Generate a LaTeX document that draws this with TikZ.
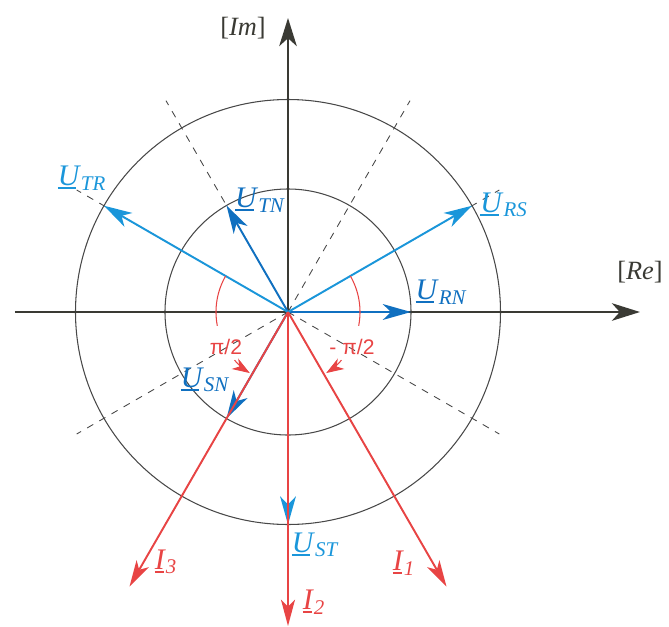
\documentclass[tikz,border=0pt]{standalone}
\usepackage{amsmath}
\usepackage{fontspec}
\setmainfont{Liberation Serif}
\newfontfamily\anglefont{Liberation Sans}
\usepackage{tikz}
\usetikzlibrary{arrows.meta}
\definecolor{axisgray}{RGB}{58,58,52}
\definecolor{ringgray}{RGB}{72,72,72}
\definecolor{phasordark}{RGB}{16,112,192}
\definecolor{phasorsky}{RGB}{26,150,218}
\definecolor{currentred}{RGB}{232,68,68}
\newcommand{\phasor}[2]{$\setbox0\hbox{\textit{#1}}\rlap{\rule[-2.1pt]{0.8\wd0}{1.3pt}}\box0_{\textit{#2}}$}

\begin{document}
\begin{tikzpicture}[x=0.02cm,y=0.02cm,
  axisline/.style={draw=axisgray,line width=1.3pt,-{Stealth[length=16pt,width=10pt,inset=4.5pt]}},
  ring/.style={draw=ringgray,line width=0.6pt},
  guide/.style={draw=ringgray,line width=0.5pt,dash pattern=on 4pt off 4pt},
  voltdark/.style={draw=phasordark,line width=1.1pt,-{Stealth[length=16pt,width=9pt,inset=4.5pt]}},
  voltsky/.style={voltdark,draw=phasorsky},
  amp/.style={draw=currentred,line width=1.1pt,-{Stealth[length=15pt,width=8pt,inset=4pt]}},
  anglemark/.style={draw=currentred,line width=0.6pt},
  angtip/.style={-{Stealth[length=10pt,width=7pt,inset=3pt]}},
  lab/.style={font=\fontsize{17}{20}\selectfont},
  axlab/.style={font=\fontsize{15}{18}\selectfont,text=axisgray},
  anglab/.style={font=\anglefont\fontsize{12}{14}\selectfont,text=currentred}]
\useasboundingbox (-288,-314) rectangle (381,312);
% points
\coordinate (O) at (0,0);
\coordinate (ReL) at (-273,0); \coordinate (ReR) at (352,0);
\coordinate (ImB) at (0,-300); \coordinate (ImT) at (0,294);
\coordinate (RN) at (0:123); \coordinate (TN) at (120:123); \coordinate (SN) at (240:123);
\coordinate (RS) at (30:212.5); \coordinate (TR) at (150:212.5); \coordinate (ST) at (270:212.5);
\coordinate (I1) at (-60:317); \coordinate (I2) at (270:314); \coordinate (I3) at (240:317);
% circles and guides
\draw[ring] (O) circle[radius=123];
\draw[ring] (O) circle[radius=212.5];
\foreach \a in {30,60,120,150,210,240,300,330}
  \draw[guide] (O) -- (\a:244);
% axes
\draw[axisline] (ReL) -- (ReR);
\draw[axisline] (ImB) -- (ImT);
\node[axlab] (relab) at (352,40) {[\textit{Re}]};
\node[axlab] (imlab) at (-45,284) {[\textit{Im}]};
% voltages
\draw[voltdark] (O) -- (RN);
\draw[voltdark] (O) -- (TN);
\draw[voltdark] (O) -- (SN);
\draw[voltsky] (O) -- (RS);
\draw[voltsky] (O) -- (TR);
\draw[voltsky] (O) -- (ST);
% currents
\draw[amp] (O) -- (I1);
\draw[amp] (O) -- (I2);
\draw[amp] (O) -- (I3);
% angles
\draw[anglemark] (150:72) arc[start angle=150,end angle=191,radius=72];
\draw[anglemark,angtip] (222:72) arc[start angle=222,end angle=238,radius=72];
\draw[anglemark] (30:72) arc[start angle=30,end angle=-11,radius=72];
\draw[anglemark,angtip] (-42:72) arc[start angle=-42,end angle=-58,radius=72];
\node[anglab] (phil) at (-62,-35) {π/2};
\node[anglab] (phir) at (64,-35) {- π/2};
% labels
\node[lab,text=phasorsky] (trlab) at (-206,134) {\phasor{U}{TR}};
\node[lab,text=phasordark] (tnlab) at (-28,112) {\phasor{U}{TN}};
\node[lab,text=phasorsky] (rslab) at (216,107) {\phasor{U}{RS}};
\node[lab,text=phasordark] (rnlab) at (153,20) {\phasor{U}{RN}};
\node[lab,text=phasordark] (snlab) at (-83,-68) {\phasor{U}{SN}};
\node[lab,text=phasorsky] (stlab) at (27,-233) {\phasor{U}{ST}};
\node[lab,text=currentred] (i3lab) at (-122,-250) {\phasor{I}{3}};
\node[lab,text=currentred] (i1lab) at (116,-251) {\phasor{I}{1}};
\node[lab,text=currentred] (i2lab) at (26,-290) {\phasor{I}{2}};
\end{tikzpicture}
\end{document}
